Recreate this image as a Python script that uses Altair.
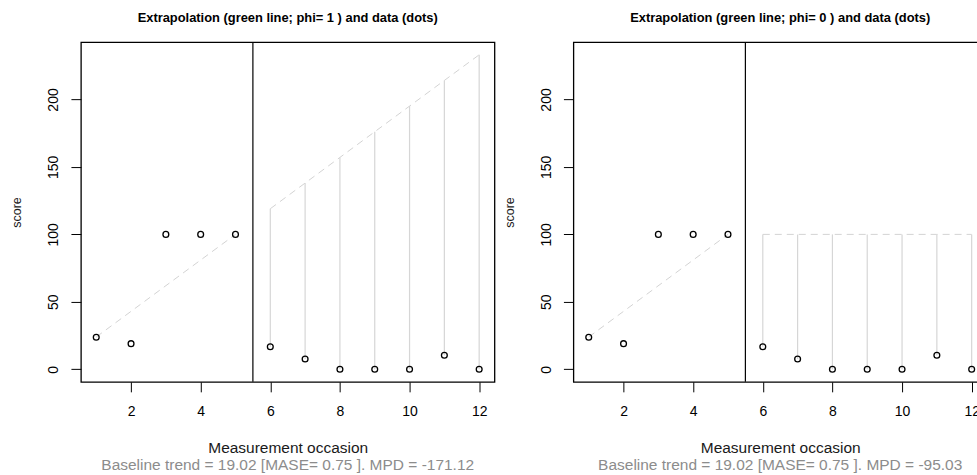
import altair as alt
import pandas as pd

# ---- data ----
occasions = [1, 2, 3, 4, 5, 6, 7, 8, 9, 10, 11, 12]
scores = [23.7, 19.0, 100.0, 100.0, 100.0, 16.7, 7.6, 0.0, 0.0, 0.0, 10.4, 0.0]
baseline_x = [1, 5]
baseline_trend = [23.92, 100.0]
treatment_x = [6, 7, 8, 9, 10, 11, 12]
treatment_obs = [16.7, 7.6, 0.0, 0.0, 0.0, 10.4, 0.0]
extrap_phi1 = [119.02, 138.04, 157.06, 176.08, 195.10, 214.12, 233.14]
extrap_phi0 = [100.0, 100.0, 100.0, 100.0, 100.0, 100.0, 100.0]
phase_change = [5.5]
x_ticks = [2, 4, 6, 8, 10, 12]
y_ticks = [0, 50, 100, 150, 200]
panel_titles = [
    "Extrapolation (green line; phi= 1 ) and data (dots)",
    "Extrapolation (green line; phi= 0 ) and data (dots)",
]
panel_subtitles = [
    "Baseline trend = 19.02 [MASE= 0.75 ]. MPD =  -171.12",
    "Baseline trend = 19.02 [MASE= 0.75 ]. MPD =  -95.03",
]

FONT = "Liberation Sans"
W, H = 414, 340
xscale = alt.Scale(domain=[0.56, 12.44], nice=False, zero=False)
yscale = alt.Scale(domain=[-9.33, 242.47], nice=False, zero=False)

xaxis = alt.Axis(
    values=x_ticks, title="Measurement occasion", domain=False, grid=False,
    tickSize=10, tickColor="black", tickWidth=1,
    labelFont=FONT, labelFontSize=14, labelColor="black", labelPadding=13,
    labelFlush=False, labelOverlap=False,
    titleFont=FONT, titleFontSize=15.5, titleFontWeight="normal", titleColor="#1a1a1a",
    titleY=71, titleBaseline="alphabetic",
)
yaxis = alt.Axis(
    values=y_ticks, title="score", domain=False, grid=False,
    tickSize=10, tickColor="black", tickWidth=1,
    labelFont=FONT, labelFontSize=14, labelColor="black", labelPadding=13,
    labelAngle=270, labelAlign="center", labelBaseline="alphabetic",
    labelFlush=False, labelOverlap=False,
    titleFont=FONT, titleFontSize=12.5, titleFontWeight="normal", titleColor="#1a1a1a",
    titleAngle=270, titleX=-60, titleY=H / 2, titleBaseline="alphabetic", titleAlign="center",
)


def X(field="x"):
    return alt.X(f"{field}:Q", scale=xscale, axis=xaxis)


def Y(field="y"):
    return alt.Y(f"{field}:Q", scale=yscale, axis=yaxis)


def panel(extrap, title, subtitle):
    pts = pd.DataFrame({"x": occasions, "y": scores})
    base_df = pd.DataFrame({"x": baseline_x, "y": baseline_trend})
    ext_df = pd.DataFrame({"x": treatment_x, "y": extrap, "obs": treatment_obs})
    phase_df = pd.DataFrame({"x": phase_change})
    sub_df = pd.DataFrame({"t": [subtitle]})

    trend = alt.Chart(base_df).mark_line(
        color="#d3d3d3", strokeDash=[7, 5], strokeWidth=1
    ).encode(x=X(), y=Y())
    ext_line = alt.Chart(ext_df).mark_line(
        color="#d3d3d3", strokeDash=[7, 5], strokeWidth=1
    ).encode(x=X(), y=Y())
    drops = alt.Chart(ext_df).mark_rule(color="#d6d6d6", strokeWidth=1.2).encode(
        x=X(), y=Y("obs"), y2="y:Q"
    )
    phase = alt.Chart(phase_df).mark_rule(color="black", strokeWidth=1.2).encode(
        x=X(), y=alt.value(0), y2=alt.value(H)
    )
    dots = alt.Chart(pts).mark_point(
        shape="circle", filled=False, color="black", size=34, strokeWidth=1.3, opacity=1
    ).encode(x=X(), y=Y())
    sub = alt.Chart(sub_df).mark_text(
        font=FONT, fontSize=15.5, color="#8c8c8c", baseline="alphabetic", align="center"
    ).encode(x=alt.datum(6.5, scale=xscale), y=alt.value(H + 88), text="t:N")

    return alt.layer(trend, ext_line, drops, phase, dots, sub).properties(
        width=W, height=H,
        view=alt.ViewBackground(stroke="black", strokeWidth=1.3, fill="white"),
        title=alt.TitleParams(
            title, font=FONT, fontSize=12.9, fontWeight="bold", color="black",
            anchor="middle", baseline="alphabetic", offset=7,
        ),
    )


left = panel(extrap_phi1, panel_titles[0], panel_subtitles[0])
right = panel(extrap_phi0, panel_titles[1], panel_subtitles[1])

chart = alt.hconcat(left, right, spacing=79, bounds="flush").properties(
    padding={"left": 10, "top": 10, "right": -11, "bottom": 0}
).configure(background="white")

chart.save("out.html", embed_options={"renderer": "svg", "actions": False})
